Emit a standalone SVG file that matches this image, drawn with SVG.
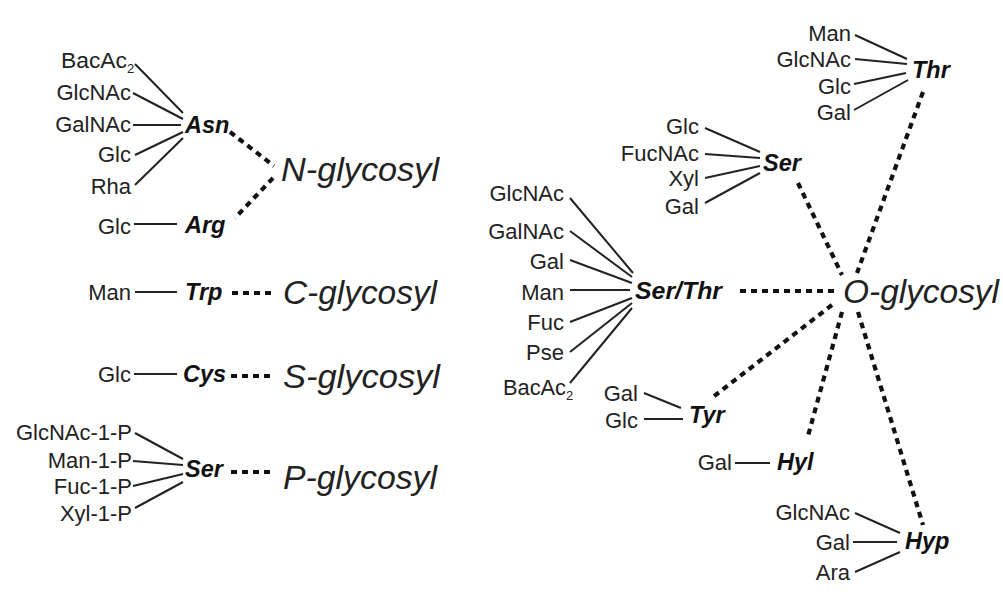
<svg xmlns="http://www.w3.org/2000/svg" width="1003" height="596" viewBox="0 0 1003 596">
<style>
.s{font-family:"Liberation Sans",Arial,sans-serif;font-size:22px;fill:#222}
.e{text-anchor:end}
.b{font-family:"Liberation Sans",Arial,sans-serif;font-size:23.5px;font-weight:bold;font-style:italic;fill:#111}
.g{font-family:"Liberation Sans",Arial,sans-serif;font-size:34px;font-style:italic;fill:#222}
.sub{font-size:13px}
.ln line{stroke:#222;stroke-width:2;stroke-linecap:butt}
.dt line{stroke:#111;stroke-width:4.2;stroke-dasharray:6 5}
</style>
<rect width="1003" height="596" fill="#fff"/>

<g id="connectors">
  <g class="ln">
    <line x1="135" y1="64" x2="183" y2="113"/>
    <line x1="133" y1="93" x2="183" y2="119"/>
    <line x1="133" y1="125" x2="181" y2="125"/>
    <line x1="135" y1="155" x2="183" y2="132"/>
    <line x1="135" y1="185" x2="183" y2="138"/>
    <line x1="134" y1="224" x2="177" y2="224"/>
    <line x1="135" y1="292" x2="177" y2="292"/>
    <line x1="134" y1="374" x2="177" y2="374"/>
    <line x1="135" y1="433" x2="183" y2="459"/>
    <line x1="133" y1="461" x2="183" y2="465"/>
    <line x1="133" y1="486" x2="183" y2="474"/>
    <line x1="135" y1="508" x2="183" y2="482"/>
    <line x1="855" y1="35" x2="907" y2="59"/>
    <line x1="855" y1="59" x2="907" y2="64"/>
    <line x1="854" y1="84" x2="906" y2="73"/>
    <line x1="854" y1="110" x2="908" y2="80"/>
    <line x1="705" y1="128" x2="760" y2="152"/>
    <line x1="705" y1="154" x2="760" y2="158"/>
    <line x1="705" y1="178" x2="760" y2="166"/>
    <line x1="705" y1="203" x2="760" y2="173"/>
    <line x1="570" y1="198" x2="633" y2="273"/>
    <line x1="570" y1="231" x2="632" y2="277"/>
    <line x1="570" y1="260" x2="632" y2="283"/>
    <line x1="570" y1="290" x2="630" y2="290"/>
    <line x1="570" y1="322" x2="632" y2="298"/>
    <line x1="570" y1="352" x2="632" y2="303"/>
    <line x1="570" y1="383" x2="632" y2="308"/>
    <line x1="644" y1="393" x2="681" y2="408"/>
    <line x1="644" y1="419" x2="683" y2="419"/>
    <line x1="735" y1="463" x2="770" y2="463"/>
    <line x1="855" y1="513" x2="900" y2="533"/>
    <line x1="853" y1="542" x2="897" y2="542"/>
    <line x1="855" y1="572" x2="900" y2="552"/>
  </g>
  <g class="dt">
    <line x1="230" y1="132" x2="274" y2="166"/>
    <line x1="273" y1="178" x2="235" y2="218"/>
    <line x1="232" y1="293" x2="275" y2="293"/>
    <line x1="231" y1="376" x2="274" y2="376"/>
    <line x1="231" y1="472" x2="274" y2="472"/>
    <line x1="923" y1="92" x2="857" y2="273"/>
    <line x1="798" y1="183" x2="842" y2="275"/>
    <line x1="740" y1="291" x2="836" y2="291"/>
    <line x1="832" y1="305" x2="713" y2="397"/>
    <line x1="842" y1="312" x2="808" y2="436"/>
    <line x1="858" y1="312" x2="923" y2="525"/>
  </g>
</g>

<g id="asn">
  <text class="s" x="61" y="68"><tspan textLength="66" lengthAdjust="spacingAndGlyphs">BacAc</tspan><tspan class="sub" dy="5">2</tspan></text>
  <text class="s e" x="131" y="100">GlcNAc</text>
  <text class="s e" x="131" y="132">GalNAc</text>
  <text class="s e" x="131" y="162">Glc</text>
  <text class="s e" x="131" y="194">Rha</text>
  <text class="b" x="185" y="133">Asn</text>
</g>
<g id="arg">
  <text class="s e" x="131" y="234">Glc</text>
  <text class="b" x="185" y="233">Arg</text>
</g>
<g id="n-glycosyl"><text class="g" x="281" y="181" textLength="158" lengthAdjust="spacingAndGlyphs">N-glycosyl</text></g>

<g id="trp">
  <text class="s e" x="131" y="300">Man</text>
  <text class="b" x="185" y="300">Trp</text>
</g>
<g id="c-glycosyl"><text class="g" x="283" y="304" textLength="154" lengthAdjust="spacingAndGlyphs">C-glycosyl</text></g>

<g id="cys">
  <text class="s e" x="131" y="382">Glc</text>
  <text class="b" x="183" y="382">Cys</text>
</g>
<g id="s-glycosyl"><text class="g" x="283" y="388" textLength="157" lengthAdjust="spacingAndGlyphs">S-glycosyl</text></g>

<g id="ser-p">
  <text class="s e" x="132" y="440">GlcNAc-1-P</text>
  <text class="s e" x="132" y="468">Man-1-P</text>
  <text class="s e" x="132" y="494">Fuc-1-P</text>
  <text class="s e" x="132" y="521">Xyl-1-P</text>
  <text class="b" x="185" y="477">Ser</text>
</g>
<g id="p-glycosyl"><text class="g" x="283" y="489" textLength="154" lengthAdjust="spacingAndGlyphs">P-glycosyl</text></g>

<g id="thr">
  <text class="s e" x="851" y="41">Man</text>
  <text class="s e" x="851" y="67">GlcNAc</text>
  <text class="s e" x="851" y="94">Glc</text>
  <text class="s e" x="851" y="120">Gal</text>
  <text class="b" x="912" y="78">Thr</text>
</g>
<g id="ser-o">
  <text class="s e" x="699" y="134">Glc</text>
  <text class="s e" x="699" y="161">FucNAc</text>
  <text class="s e" x="699" y="186">Xyl</text>
  <text class="s e" x="699" y="214">Gal</text>
  <text class="b" x="763" y="171">Ser</text>
</g>
<g id="ser-thr">
  <text class="s e" x="564" y="201">GlcNAc</text>
  <text class="s e" x="564" y="239">GalNAc</text>
  <text class="s e" x="564" y="269">Gal</text>
  <text class="s e" x="564" y="300">Man</text>
  <text class="s e" x="564" y="330">Fuc</text>
  <text class="s e" x="564" y="360">Pse</text>
  <text class="s" x="503" y="395"><tspan textLength="63" lengthAdjust="spacingAndGlyphs">BacAc</tspan><tspan class="sub" dy="5">2</tspan></text>
  <text class="b" x="635" y="299" textLength="87" lengthAdjust="spacingAndGlyphs">Ser/Thr</text>
</g>
<g id="o-glycosyl"><text class="g" x="843" y="303" textLength="156" lengthAdjust="spacingAndGlyphs">O-glycosyl</text></g>
<g id="tyr">
  <text class="s e" x="638" y="401">Gal</text>
  <text class="s e" x="638" y="428">Glc</text>
  <text class="b" x="689" y="423">Tyr</text>
</g>
<g id="hyl">
  <text class="s e" x="732" y="470">Gal</text>
  <text class="b" x="777" y="470">Hyl</text>
</g>
<g id="hyp">
  <text class="s e" x="850" y="520">GlcNAc</text>
  <text class="s e" x="850" y="550">Gal</text>
  <text class="s e" x="850" y="580">Ara</text>
  <text class="b" x="905" y="549">Hyp</text>
</g>
</svg>
